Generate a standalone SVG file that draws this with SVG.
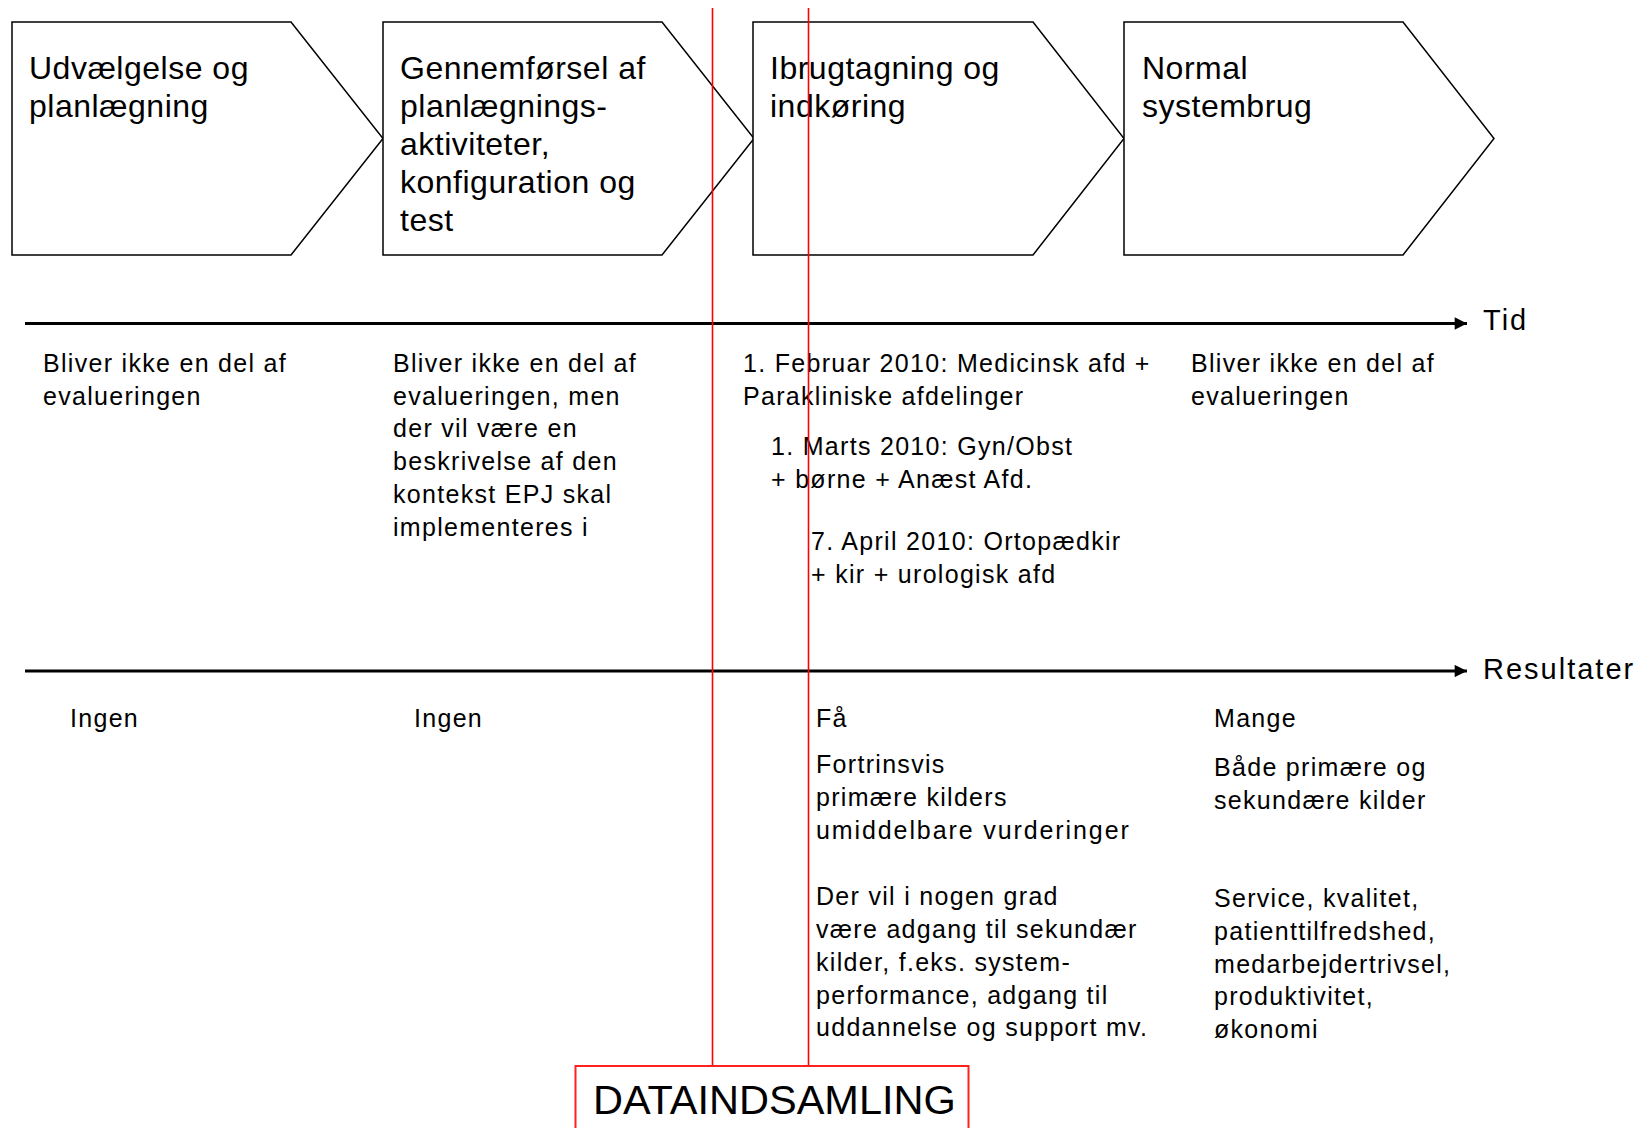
<svg xmlns="http://www.w3.org/2000/svg" width="1645" height="1128" viewBox="0 0 1645 1128">
<style>
.chev{fill:#fff;stroke:#000;stroke-width:1.5}
.ct{font-family:"Liberation Sans",Arial,sans-serif;font-size:32px;letter-spacing:0.5px;fill:#000}
.bt{font-family:"Liberation Sans",Arial,sans-serif;font-size:25px;letter-spacing:1.3px;fill:#000}
.wide{letter-spacing:1.9px}
.ax{stroke:#000;stroke-width:2.8;fill:none}
.al{font-family:"Liberation Sans",Arial,sans-serif;font-size:29px;letter-spacing:2px;fill:#000}
.red{stroke:#ff0000;stroke-width:1.6;fill:none}
</style>
<defs>
<marker id="arr" viewBox="0 0 10 10" refX="10" refY="5" markerWidth="5" markerHeight="4.4" markerUnits="strokeWidth" orient="auto">
<path d="M0,0 L10,5 L0,10 z" fill="#000"/>
</marker>
</defs>
<rect width="1645" height="1128" fill="#fff"/>

<g id="phase1">
<polygon class="chev" points="12,22 291,22 383,138.5 291,255 12,255"/>
<text class="ct" x="29" y="79">Udvælgelse og</text>
<text class="ct" x="29" y="117">planlægning</text>
</g>
<g id="phase2">
<polygon class="chev" points="383,22 662,22 754,138.5 662,255 383,255"/>
<text class="ct" x="400" y="79">Gennemførsel af</text>
<text class="ct" x="400" y="117">planlægnings-</text>
<text class="ct" x="400" y="155">aktiviteter,</text>
<text class="ct" x="400" y="193">konfiguration og</text>
<text class="ct" x="400" y="231">test</text>
</g>
<g id="phase3">
<polygon class="chev" points="753,22 1033,22 1124,138.5 1033,255 753,255"/>
<text class="ct" x="770" y="79">Ibrugtagning og</text>
<text class="ct" x="770" y="117">indkøring</text>
</g>
<g id="phase4">
<polygon class="chev" points="1124,22 1403,22 1494,138.5 1403,255 1124,255"/>
<text class="ct" x="1142" y="79">Normal</text>
<text class="ct" x="1142" y="117">systembrug</text>
</g>

<g id="tid-texts">
<text class="bt" x="43" y="372">Bliver ikke en del af</text>
<text class="bt" x="43" y="404.5">evalueringen</text>
<text class="bt" x="393" y="372">Bliver ikke en del af</text>
<text class="bt" x="393" y="404.5">evalueringen, men</text>
<text class="bt" x="393" y="437">der vil være en</text>
<text class="bt" x="393" y="470">beskrivelse af den</text>
<text class="bt" x="393" y="503">kontekst EPJ skal</text>
<text class="bt" x="393" y="536">implementeres i</text>
<text class="bt" x="743" y="372">1. Februar 2010: Medicinsk afd +</text>
<text class="bt" x="743" y="404.5">Parakliniske afdelinger</text>
<text class="bt" x="771" y="455">1. Marts 2010: Gyn/Obst</text>
<text class="bt" x="771" y="487.5">+ børne + Anæst Afd.</text>
<text class="bt" x="811" y="550">7. April 2010: Ortopædkir</text>
<text class="bt" x="811" y="583">+ kir + urologisk afd</text>
<text class="bt" x="1191" y="372">Bliver ikke en del af</text>
<text class="bt" x="1191" y="404.5">evalueringen</text>
</g>

<g id="result-texts">
<text class="bt" x="70" y="727">Ingen</text>
<text class="bt" x="414" y="727">Ingen</text>
<text class="bt" x="816" y="727">Få</text>
<text class="bt" x="816" y="773">Fortrinsvis</text>
<text class="bt" x="816" y="806">primære kilders</text>
<text class="bt wide" x="816" y="838.5">umiddelbare vurderinger</text>
<text class="bt" x="816" y="905">Der vil i nogen grad</text>
<text class="bt" x="816" y="938">være adgang til sekundær</text>
<text class="bt" x="816" y="971">kilder, f.eks. system-</text>
<text class="bt" x="816" y="1003.5">performance, adgang  til</text>
<text class="bt" x="816" y="1036">uddannelse og support mv.</text>
<text class="bt" x="1214" y="727">Mange</text>
<text class="bt" x="1214" y="776">Både primære og</text>
<text class="bt" x="1214" y="808.5">sekundære kilder</text>
<text class="bt" x="1214" y="907">Service, kvalitet,</text>
<text class="bt" x="1214" y="939.5">patienttilfredshed,</text>
<text class="bt" x="1214" y="972.5">medarbejdertrivsel,</text>
<text class="bt" x="1214" y="1005">produktivitet,</text>
<text class="bt" x="1214" y="1038">økonomi</text>
</g>

<g id="connectors">
<line class="ax" x1="25" y1="323.5" x2="1467" y2="323.5" marker-end="url(#arr)"/>
<line class="ax" x1="25" y1="671" x2="1467" y2="671" marker-end="url(#arr)"/>
<line class="red" x1="712.5" y1="8" x2="712.5" y2="1066"/>
<line class="red" x1="808.5" y1="8" x2="808.5" y2="1066"/>
</g>

<g id="axis-labels">
<text class="al" x="1483" y="330">Tid</text>
<text class="al" x="1483" y="679">Resultater</text>
</g>

<g id="dataindsamling">
<rect x="575.5" y="1066" width="393" height="80" fill="#fff" stroke="#ff2020" stroke-width="2"/>
<text x="593" y="1114" font-family="'Liberation Sans',Arial,sans-serif" font-size="41.5" fill="#000">DATAINDSAMLING</text>
</g>
</svg>
